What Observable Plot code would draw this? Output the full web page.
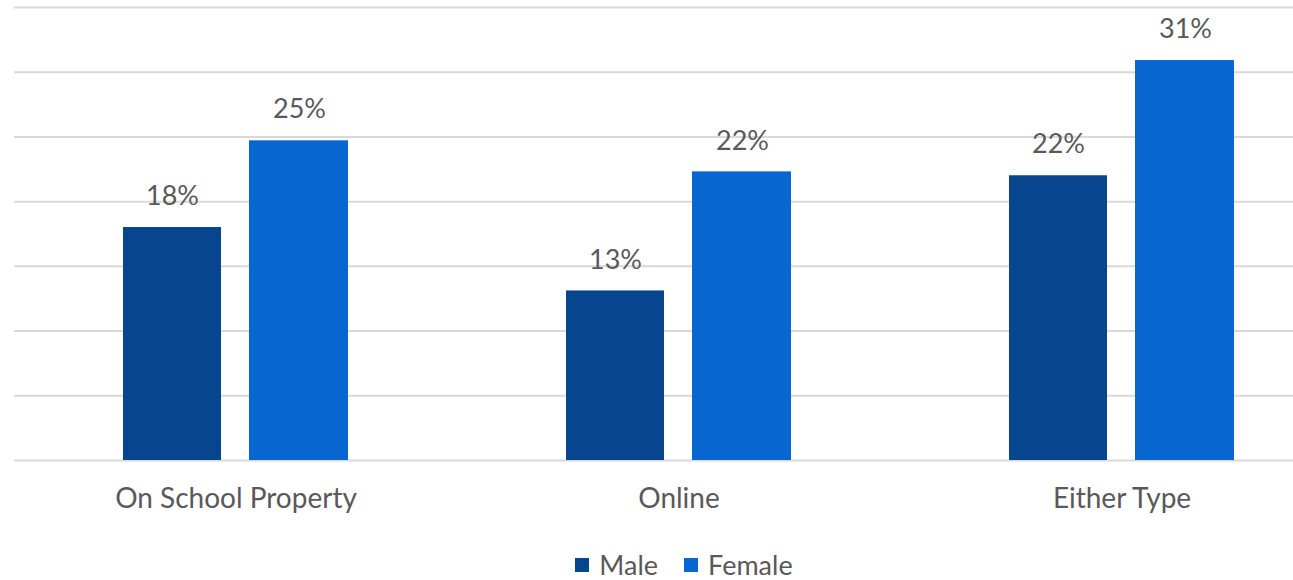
<!DOCTYPE html>
<html>
<head>
<meta charset="utf-8">
<script src="https://cdn.jsdelivr.net/npm/d3@7"></script>
<script src="https://cdn.jsdelivr.net/npm/@observablehq/plot@0.6"></script>
<style>
  html, body { margin: 0; padding: 0; background: #fff; }
  body { font-family: Lato, sans-serif; width: 1293px; height: 580px; overflow: hidden; }
  #chart svg { display: block; }
  #legend { display: flex; justify-content: center; padding-left: 75px; margin-top: 8px; }
  #legend > div { font-family: Lato, sans-serif !important; font-size: 27px !important; color: #595959 !important; margin: 0 !important; }
  #legend > div > span { margin-right: 26px !important; }
  #legend > div > span:last-child { margin-right: 0 !important; }
  #legend > div > span > svg { margin-right: 10px !important; }
</style>
</head>
<body>
<div id="chart"></div>
<div id="legend"></div>
<script>
const categories = ["On School Property", "Online", "Either Type"];
const series = ["Male", "Female"];
const maleValues = [18.0, 13.1, 22.0];
const femaleValues = [24.7, 22.3, 30.9];
const seriesColors = ["#07458e", "#0766d0"];
const yTicks = [0, 5, 10, 15, 20, 25, 30, 35];

const maleData = categories.map((c, i) => ({category: c, sex: series[0], value: maleValues[i]}));
const femaleData = categories.map((c, i) => ({category: c, sex: series[1], value: femaleValues[i]}));

// pair of bars inside each category band: bar width 98, gap 28 (band 225)
const barPairInset = 127;
const labelShift = 63.5;
const pct = d => Math.round(d.value) + "%";

const chart = Plot.plot({
  width: 1293,
  height: 540,
  marginLeft: 14,
  marginRight: 0,
  marginTop: 7,
  marginBottom: 80,
  style: {fontFamily: "Lato, sans-serif", fontSize: "28px", color: "#595959", background: "#fff"},
  x: {domain: categories, paddingInner: 0.4932, paddingOuter: 0.187, align: 0.645, label: null, tickSize: 0, tickPadding: 28},
  y: {domain: [0, 35], axis: null},
  color: {domain: series, range: seriesColors},
  marks: [
    Plot.ruleY(yTicks, {stroke: "#d9d9d9", strokeWidth: 2}),
    Plot.barY(maleData, {x: "category", y: "value", fill: "sex", insetRight: barPairInset}),
    Plot.barY(femaleData, {x: "category", y: "value", fill: "sex", insetLeft: barPairInset - 1}),
    Plot.text(maleData, {x: "category", y: "value", text: pct, dx: -labelShift, dy: -31, fill: "#595959", fontSize: 27}),
    Plot.text(femaleData, {x: "category", y: "value", text: pct, dx: labelShift, dy: -31, fill: "#595959", fontSize: 27})
  ]
});
document.getElementById("chart").appendChild(chart);

const legend = Plot.legend({
  color: {domain: series, range: seriesColors},
  legend: "swatches",
  swatchSize: 14,
  className: "lg"
});
document.getElementById("legend").appendChild(legend);
</script>
</body>
</html>
